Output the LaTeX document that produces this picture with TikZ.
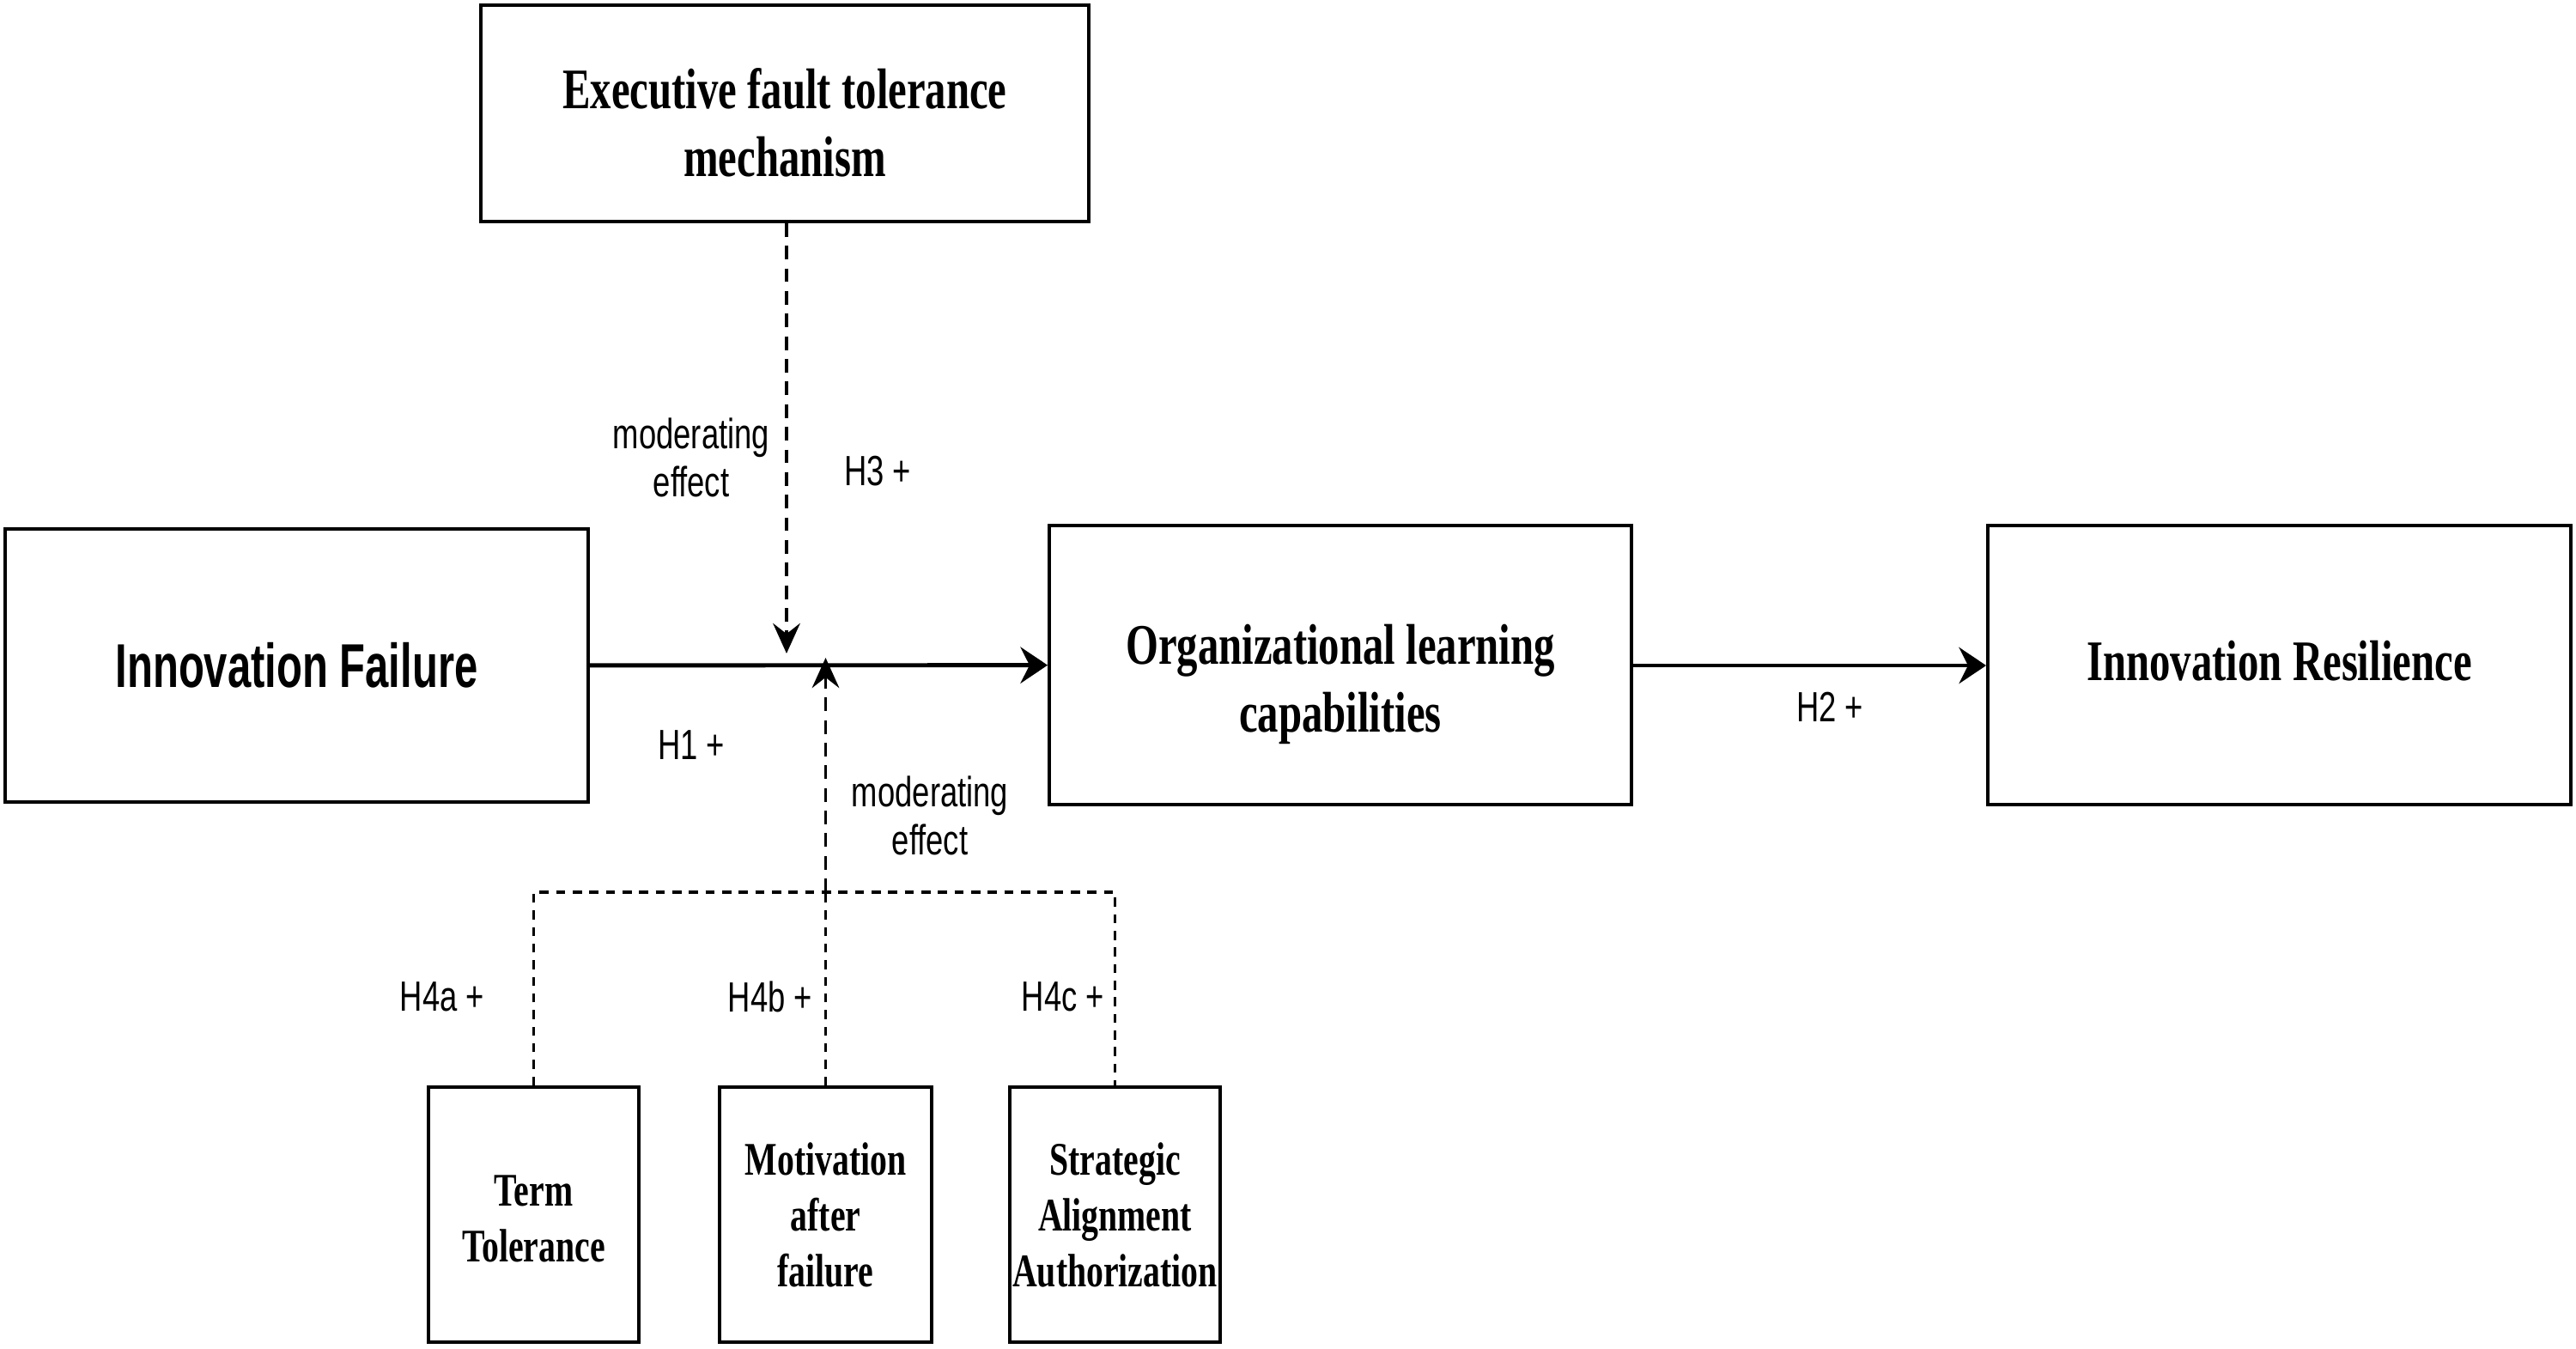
\documentclass[tikz,border=0pt]{standalone}
\usepackage{fontspec}
\newfontfamily\boxfont[FakeStretch=0.73]{Liberation Serif}
\newfontfamily\headfont[FakeStretch=0.68]{Liberation Sans}
\newfontfamily\lblfont[FakeStretch=0.74]{Liberation Sans}
\usetikzlibrary{arrows.meta}

\begin{document}
\begin{tikzpicture}[
    box/.style={draw, line width=1.1pt, align=center, inner sep=0pt},
    bigtext/.style={font=\boxfont\bfseries\fontsize{19}{22.5}\selectfont, align=center},
    smalltext/.style={font=\boxfont\bfseries\fontsize{15.5}{18.5}\selectfont, align=center},
    lbl/.style={font=\lblfont\fontsize{14}{16}\selectfont, align=center},
    link/.style={line width=1.4pt, -{Stealth[length=9pt,width=12pt,inset=3pt]}},
    modlink/.style={line width=1.1pt, dash pattern=on 4.5pt off 3pt, -{Stealth[length=10pt,width=9pt,inset=3.5pt]}},
    branch/.style={line width=1.1pt, dash pattern=on 3pt off 2.5pt}
]
    \useasboundingbox (0,0) rectangle (30,-15.7);

    % Cajas principales
    \node[box, minimum width=7.08cm, minimum height=2.52cm,
        label={[bigtext, yshift=-0.11cm]center:{Executive fault tolerance\\mechanism}}] (mech) at (9.14,-1.32) {};
    \node[box, font=\headfont\bfseries\fontsize{20.5}{24}\selectfont, minimum width=6.79cm, minimum height=3.18cm] (fail) at (3.455,-7.75)
        {Innovation Failure};
    \node[box, minimum width=6.78cm, minimum height=3.25cm,
        label={[bigtext, yshift=-0.22cm]center:{Organizational learning\\capabilities}}] (olc) at (15.61,-7.745) {};
    \node[box, minimum width=6.79cm, minimum height=3.25cm,
        label={[bigtext, yshift=0.05cm]center:Innovation Resilience}] (res) at (26.545,-7.745) {};

    % Dimensiones del mecanismo
    \node[box, minimum width=2.45cm, minimum height=2.97cm,
        label={[smalltext, yshift=-0.05cm]center:{Term\\Tolerance}}] (term) at (6.215,-14.145) {};
    \node[box, smalltext, minimum width=2.47cm, minimum height=2.97cm] (motiv) at (9.615,-14.145)
        {Motivation\\after\\failure};
    \node[box, smalltext, minimum width=2.45cm, minimum height=2.97cm] (strat) at (12.985,-14.145)
        {Strategic\\Alignment\\Authorization};

    % Relaciones directas
    \draw[link] (fail) -- (olc);
    \draw[link] (olc.east |- fail.east) -- (res.west |- fail.east);

    % Efectos moderadores
    \coordinate (hit) at (9.16,-7.61);
    \coordinate (join) at (motiv.north |- 0,-10.39);
    \coordinate (top) at (motiv.north |- 0,-7.66);
    \draw[modlink] (mech.south -| hit) -- (hit);
    \draw[modlink] (join) -- (top);
    \draw[branch] (term.north) -- (term.north |- join) -- (strat.north |- join) -- (strat.north);
    \draw[branch] (motiv.north) -- (join);

    % Etiquetas
    \node[lbl] (modtop) at (8.05,-5.33) {moderating\\effect};
    \node[lbl] (hthree) at (10.22,-5.49) {H3 +};
    \node[lbl] (hone) at (8.05,-8.68) {H1 +};
    \node[lbl] (modbot) at (10.83,-9.50) {moderating\\effect};
    \node[lbl] (htwo) at (21.31,-8.23) {H2 +};
    \node[lbl] (hfoura) at (5.15,-11.61) {H4a +};
    \node[lbl] (hfourb) at (8.97,-11.61) {H4b +};
    \node[lbl] (hfourc) at (12.38,-11.61) {H4c +};
\end{tikzpicture}
\end{document}
